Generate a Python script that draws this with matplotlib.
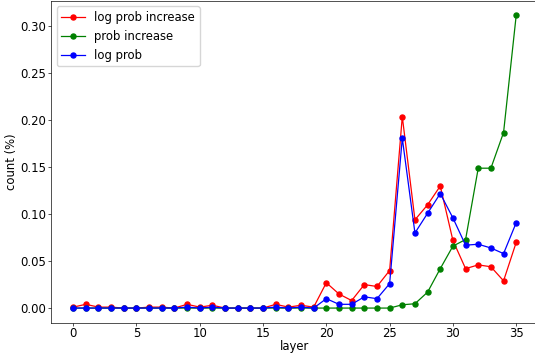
import matplotlib
matplotlib.use("Agg")
import matplotlib.pyplot as plt

layers = list(range(36))

log_prob_increase = [0.001, 0.004, 0.001, 0.001, 0.0, 0.0, 0.001, 0.001, 0.0, 0.004, 0.001, 0.003, 0.0, 0.0, 0.0, 0.0,
                     0.004, 0.001, 0.003, 0.001, 0.027, 0.015, 0.008, 0.025, 0.023, 0.040,
                     0.204, 0.094, 0.110, 0.130, 0.072, 0.042, 0.046, 0.044, 0.029, 0.070]
prob_increase = [0.0] * 26 + [0.0035, 0.0046, 0.017, 0.042, 0.066, 0.073, 0.149, 0.149, 0.187, 0.312]
log_prob = [0.0, 0.0, 0.0, 0.0, 0.0, 0.0, 0.0, 0.0, 0.0, 0.001, 0.0, 0.001, 0.0, 0.0, 0.0, 0.0,
            0.001, 0.0, 0.001, 0.0, 0.010, 0.004, 0.004, 0.012, 0.010, 0.026,
            0.181, 0.080, 0.101, 0.122, 0.096, 0.067, 0.068, 0.064, 0.058, 0.091]

# original plot was drawn larger (font 14) and shrunk, so scale paddings/lines by s
s = 0.6
plt.rcParams["font.size"] = 14 * s
plt.rcParams["axes.linewidth"] = 0.8 * s
for a in ("xtick", "ytick"):
    plt.rcParams[f"{a}.major.width"] = 0.8 * s
    plt.rcParams[f"{a}.major.size"] = 3.5 * s
    plt.rcParams[f"{a}.major.pad"] = 1.2

fig = plt.figure(figsize=(5.35, 3.56), dpi=100)
ax = fig.add_axes([0.0953, 0.0935, 0.911, 0.905])
for vals, col, lab in [(log_prob_increase, "red", "log prob increase"),
                       (prob_increase, "green", "prob increase"),
                       (log_prob, "blue", "log prob")]:
    ax.plot(layers, vals, marker="o", markersize=6 * s, linewidth=1.5 * s, color=col, label=lab)
ax.set_xlabel("layer", labelpad=0)
ax.set_ylabel("count (%)", labelpad=2)
ax.legend(loc="upper left")
plt.savefig("out.png")
plt.close()
